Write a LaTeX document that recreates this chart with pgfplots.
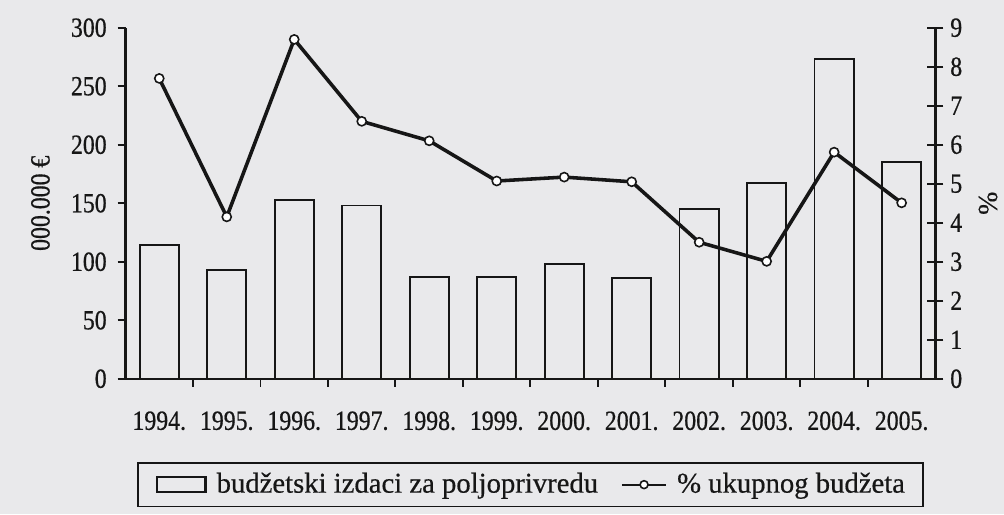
\documentclass[border=0pt]{standalone}
\usepackage{pgfplots}
\pgfplotsset{compat=1.18}
\usepackage{pgfplotstable}
\usepackage{fontspec}
\setmainfont[FakeBold=0.4]{Liberation Serif}
\newfontfamily\tickfont[FakeStretch=0.86, FakeBold=0.6]{Liberation Serif}
\newfontfamily\legfont[FakeBold=0.5]{Liberation Serif}
\usetikzlibrary{backgrounds}
\definecolor{paper}{RGB}{233,233,235}
\definecolor{ink}{RGB}{22,22,22}

\pgfplotsset{
  mylegline/.style={legend image code/.code={\draw[mark repeat=2, mark phase=2, ##1] plot coordinates {(0pt,0pt) (11.25pt,0pt) (22.5pt,0pt)};}},
  mylegbar/.style={legend image code/.code={\draw[ink, line width=1.2pt] (0pt,-3.8pt) rectangle (24.5pt,3.8pt);}},
}

\pgfplotstableread{
x year val pct
0  1994 114 7.7
1  1995 93  4.15
2  1996 153 8.7
3  1997 148 6.6
4  1998 87  6.1
5  1999 87  5.07
6  2000 98  5.17
7  2001 86  5.05
8  2002 145 3.5
9  2003 167 3.01
10 2004 273 5.81
11 2005 185 4.51
}\data

\begin{document}
\begin{tikzpicture}
\begin{axis}[
  scale only axis, width=409.5pt, height=177.5pt,
  xmin=-0.5, xmax=11.5, ymin=0, ymax=300,
  axis lines*=left,
  axis line style={ink, line width=1.2pt},
  xtick={0,...,11},
  xticklabels={1994.,1995.,1996.,1997.,1998.,1999.,2000.,2001.,2002.,2003.,2004.,2005.},
  major x tick style={draw=none},
  minor xtick={0.5,1.5,...,10.5},
  minor x tick style={ink, line width=1pt},
  minor tick length=4pt,
  ytick={0,50,...,300},
  tick align=outside,
  major tick length=4pt,
  major y tick style={ink, line width=1pt},
  xticklabel style={font=\fontsize{14}{16}\tickfont, text=ink, yshift=-9pt},
  yticklabel style={font=\fontsize{14}{16}\tickfont, text=ink, xshift=-2pt, /pgf/number format/assume math mode=true},
  ylabel={000.000 €},
  every axis y label/.style={at={(axis description cs:-0.105,0.5)}, rotate=90, anchor=center, font=\fontsize{14}{16}\tickfont, text=ink},
  clip=false,
  legend style={at={(axis description cs:0.5,-0.2366)}, anchor=north, legend columns=2,
    draw=ink, line width=1pt, fill=none, font=\fontsize{14.5}{16}\legfont, text=ink,
    inner xsep=9pt, inner ysep=5pt, nodes={inner sep=0pt, text depth=0.2em},
    /tikz/every odd column/.append style={column sep=5pt},
    /tikz/every even column/.append style={column sep=11.5pt}},
]
\path (rel axis cs:-0.155,-0.386) rectangle (rel axis cs:1.0708,1.079);
\addplot[ybar, bar width=0.58, draw=ink, fill=none, line width=0.9pt, mylegbar]
  table[x=x, y=val]{\data};
\addlegendentry{budžetski izdaci za poljoprivredu}
\addlegendimage{ink, line width=1pt, mark=*, mark size=2pt, mark options={fill=white, line width=0.8pt}, mylegline}
\addlegendentry{\% ukupnog budžeta}
\end{axis}
\begin{axis}[
  scale only axis, width=409.5pt, height=177.5pt,
  xmin=-0.5, xmax=11.5, ymin=0, ymax=9,
  axis x line=none, axis y line*=right,
  axis line style={ink, line width=1.2pt},
  ytick={0,...,9},
  tick align=center, major tick length=8pt,
  major y tick style={ink, line width=1pt},
  yticklabel style={font=\fontsize{14}{16}\tickfont, text=ink, /pgf/number format/assume math mode=true},
  ylabel={\%},
  every axis y label/.style={at={(axis description cs:1.065,0.5)}, rotate=90, anchor=center, font=\fontsize{14}{16}\selectfont, text=ink},
  clip=false,
]
\addplot[ink, line width=1.8pt, mark=*, mark size=2.3pt, mark options={fill=white, line width=0.8pt}]
  table[x=x, y=pct]{\data};
\end{axis}
\begin{scope}[on background layer]
\fill[paper] (current bounding box.south west) rectangle (current bounding box.north east);
\end{scope}
\end{tikzpicture}
\end{document}
